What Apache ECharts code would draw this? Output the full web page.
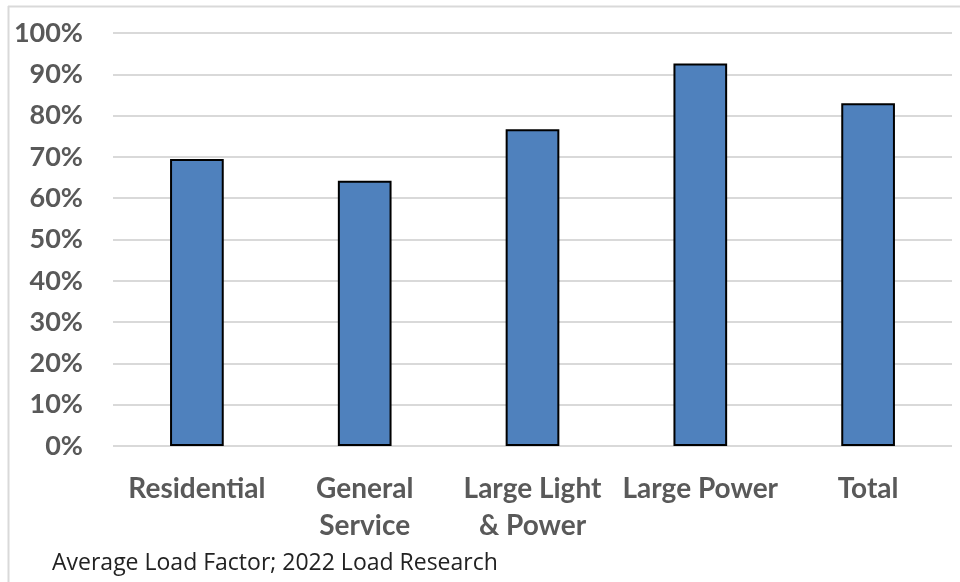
<!DOCTYPE html>
<html>
<head>
<meta charset="utf-8">
<script src="https://cdn.jsdelivr.net/npm/echarts@6/dist/echarts.min.js"></script>
<style>
  html, body { margin: 0; padding: 0; background: #fff; }
  #chart { width: 960px; height: 582px; }
</style>
</head>
<body>
<div id="chart"></div>
<script>
// Rate classes and their average load factor (%)
const categories = ['Residential', 'General\nService', 'Large Light\n& Power', 'Large Power', 'Total'];
const loadFactor = [69.5, 64.2, 76.7, 92.6, 83.0];
const footnote = 'Average Load Factor; 2022 Load Research';
const chartTitle = 'Average Load Factor by Rate Class';

const labelFont = 'Lato, "Open Sans", sans-serif';
const chart = echarts.init(document.getElementById('chart'));

chart.setOption({
  animation: false,
  backgroundColor: '#fff',
  grid: { left: 113, right: 8, top: 33, bottom: 136 },
  xAxis: {
    type: 'category',
    data: categories,
    axisLine: { show: false },
    axisTick: { show: false },
    axisLabel: {
      color: '#595959',
      fontFamily: labelFont,
      fontWeight: 'bold',
      fontSize: 28,
      lineHeight: 37,
      margin: 24,
      interval: 0
    }
  },
  yAxis: {
    type: 'value',
    min: 0,
    max: 100,
    interval: 10,
    axisLine: { show: false },
    axisTick: { show: false },
    axisLabel: {
      formatter: '{value}%',
      color: '#595959',
      fontFamily: labelFont,
      fontWeight: 'bold',
      fontSize: 27,
      margin: 30
    },
    splitLine: { lineStyle: { color: '#d9d9d9', width: 2 } }
  },
  series: [{
    type: 'bar',
    data: loadFactor,
    barWidth: '32%',
    itemStyle: { color: '#4f81bd', borderColor: '#000', borderWidth: 2 }
  }],
  graphic: [
    { type: 'text', silent: true, left: 95, top: -21,
      style: { text: chartTitle, fill: '#000', font: 'bold 20px "Liberation Serif", serif' } },
    { type: 'line', silent: true, shape: { x1: 8, y1: 6.5, x2: 960, y2: 6.5 }, style: { stroke: '#d9d9d9', lineWidth: 2 } },
    { type: 'line', silent: true, shape: { x1: 8.5, y1: 6, x2: 8.5, y2: 582 }, style: { stroke: '#d9d9d9', lineWidth: 2 } },
    { type: 'text', silent: true, left: 52, top: 552,
      style: { text: footnote, fill: '#222', font: '23px "Open Sans", sans-serif' } }
  ]
});
</script>
</body>
</html>
